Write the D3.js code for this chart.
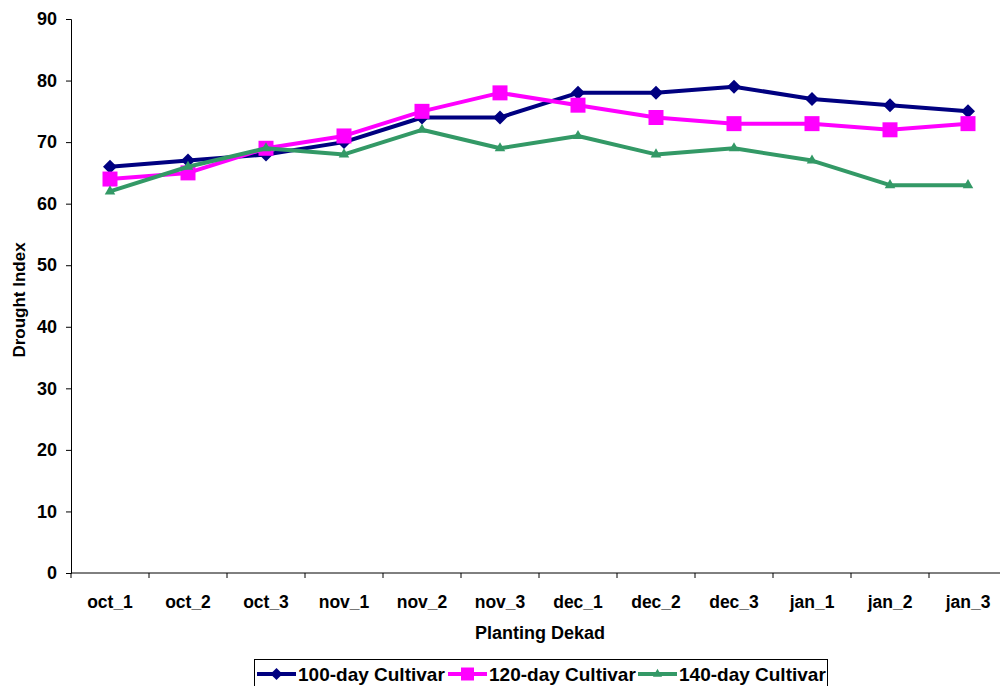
<!DOCTYPE html>
<html>
<head>
<meta charset="utf-8">
<script src="https://cdn.jsdelivr.net/npm/d3@7"></script>
<style>
  body { margin: 0; background: #fff; }
  svg { display: block; font-family: Arial, "Liberation Sans", sans-serif; }
</style>
</head>
<body>
<svg id="chart" width="1000" height="686"></svg>
<script>
// Planting dekads along the x axis
const categories = ["oct_1","oct_2","oct_3","nov_1","nov_2","nov_3","dec_1","dec_2","dec_3","jan_1","jan_2","jan_3"];
// Drought index per cultivar
const cultivar100 = [66, 67, 68, 70, 74, 74, 78, 78, 79, 77, 76, 75];
const cultivar120 = [64, 65, 69, 71, 75, 78, 76, 74, 73, 73, 72, 73];
const cultivar140 = [62, 66, 69, 68, 72, 69, 71, 68, 69, 67, 63, 63];
const yTicks = [0, 10, 20, 30, 40, 50, 60, 70, 80, 90];

// Square diamond (equal width and height), unlike d3.symbolDiamond
const squareDiamond = {
  draw(context, size) {
    const r = Math.sqrt(size / 2);
    context.moveTo(0, -r);
    context.lineTo(r, 0);
    context.lineTo(0, r);
    context.lineTo(-r, 0);
    context.closePath();
  }
};

const series = [
  { name: "100-day Cultivar", values: cultivar100, color: "#000080", symbol: squareDiamond, size: 98 },
  { name: "120-day Cultivar", values: cultivar120, color: "#FF00FF", symbol: d3.symbolSquare, size: 225 },
  { name: "140-day Cultivar", values: cultivar140, color: "#339966", symbol: d3.symbolTriangle, size: 48 }
];

const svg = d3.select("#chart");
const plotLeft = 71, plotTop = 19, plotBottom = 573;
const band = 78;

const x = d3.scaleBand().domain(categories).range([plotLeft, plotLeft + band * categories.length]).padding(0);
const y = d3.scaleLinear().domain([0, 90]).range([plotBottom, plotTop]);

// Y axis
const yAxis = svg.append("g")
  .attr("transform", `translate(${plotLeft},0)`)
  .call(d3.axisLeft(y).tickValues(yTicks).tickSize(5).tickPadding(9));
yAxis.select(".domain").attr("stroke", "#000").attr("stroke-width", 1);
yAxis.selectAll(".tick line").attr("stroke", "#000");
yAxis.selectAll(".tick text")
  .attr("font-size", 18).attr("font-weight", "bold").attr("fill", "#000")
  .attr("font-family", "Arial, 'Liberation Sans', sans-serif");

// X axis with ticks between categories
const xAxisG = svg.append("g").attr("transform", `translate(0,${plotBottom})`);
xAxisG.append("line")
  .attr("x1", plotLeft).attr("x2", plotLeft + band * categories.length)
  .attr("stroke", "#000");
xAxisG.selectAll("line.tk")
  .data(d3.range(categories.length + 1))
  .join("line").attr("class", "tk")
  .attr("x1", i => plotLeft + i * band).attr("x2", i => plotLeft + i * band)
  .attr("y1", 0).attr("y2", 5).attr("stroke", "#000");
xAxisG.selectAll("text")
  .data(categories)
  .join("text")
  .attr("x", d => x(d) + x.bandwidth() / 2)
  .attr("y", 35)
  .attr("text-anchor", "middle")
  .attr("font-size", 17.5).attr("font-weight", "bold")
  .text(d => d);

// Axis titles
svg.append("text")
  .attr("x", 540).attr("y", 639)
  .attr("text-anchor", "middle")
  .attr("font-size", 18).attr("font-weight", "bold")
  .text("Planting Dekad");
svg.append("text")
  .attr("transform", "translate(25,300) rotate(-90)")
  .attr("text-anchor", "middle")
  .attr("font-size", 17).attr("font-weight", "bold")
  .text("Drought Index");

// Lines and markers
const line = d3.line()
  .x((d, i) => x(categories[i]) + x.bandwidth() / 2)
  .y(d => y(d));

series.forEach(s => {
  svg.append("path")
    .datum(s.values)
    .attr("d", line)
    .attr("fill", "none")
    .attr("stroke", s.color)
    .attr("stroke-width", 4)
    .attr("stroke-linejoin", "round");
  svg.append("g").selectAll("path")
    .data(s.values)
    .join("path")
    .attr("transform", (d, i) => `translate(${x(categories[i]) + x.bandwidth() / 2},${y(d)})`)
    .attr("d", d3.symbol().type(s.symbol).size(s.size))
    .attr("fill", s.color);
});

// Legend
const legend = svg.append("g");
legend.append("rect")
  .attr("x", 254.5).attr("y", 659.5).attr("width", 573).attr("height", 32)
  .attr("fill", "#fff").attr("stroke", "#000");
const entryX = [257, 448, 638];
series.forEach((s, i) => {
  const g = legend.append("g").attr("transform", `translate(${entryX[i]},674)`);
  g.append("line").attr("x1", 0).attr("x2", 39).attr("stroke", s.color).attr("stroke-width", 4);
  g.append("path")
    .attr("transform", "translate(19.5,0)")
    .attr("d", d3.symbol().type(s.symbol).size(s.size * 0.75))
    .attr("fill", s.color);
  g.append("text")
    .attr("x", 41).attr("y", 7)
    .attr("font-size", 19).attr("font-weight", "bold")
    .text(s.name);
});
</script>
</body>
</html>
